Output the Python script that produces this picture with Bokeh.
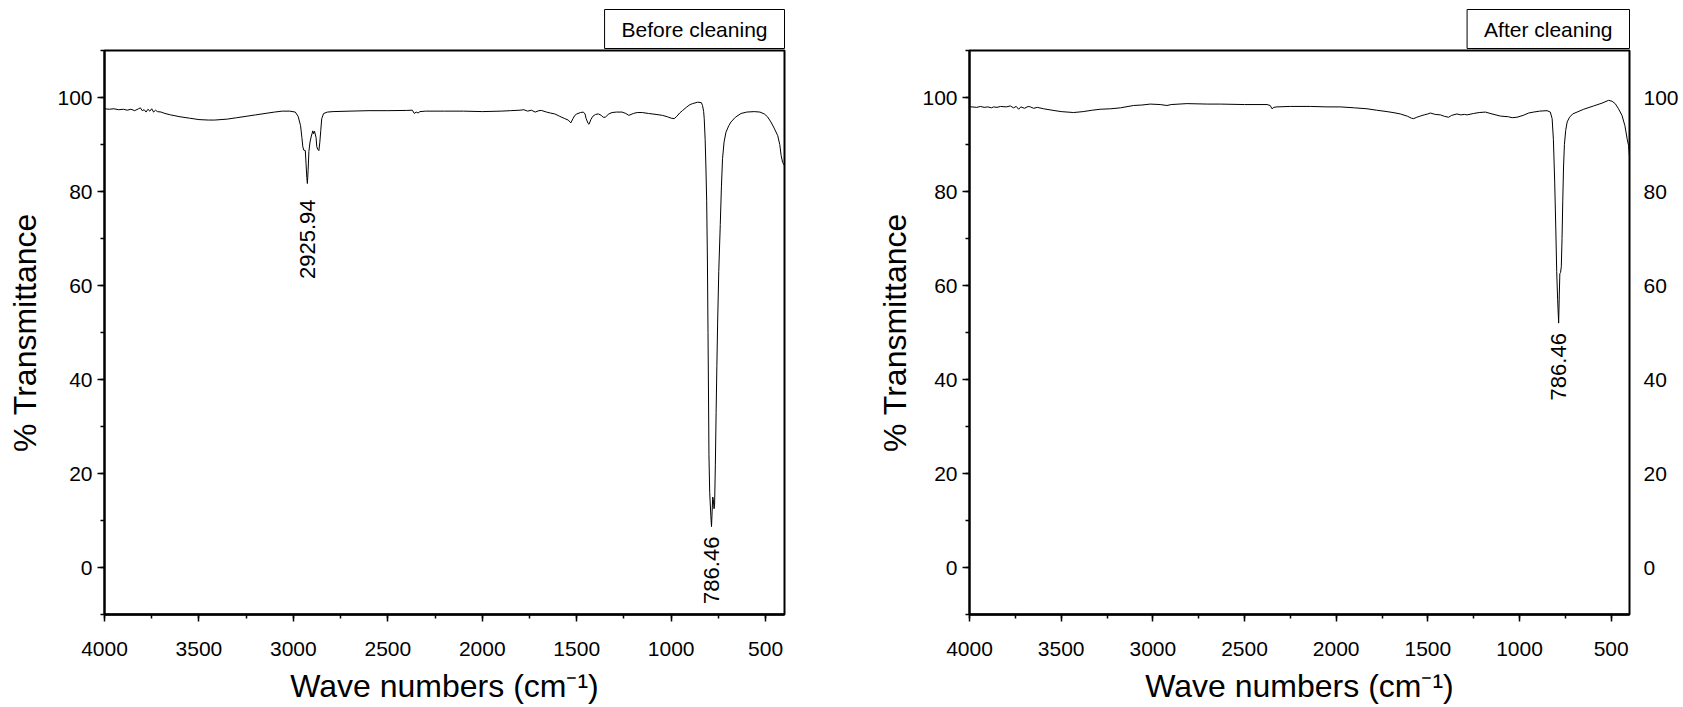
import math
from bokeh.plotting import figure
from bokeh.models import Range1d, LinearAxis, SingleIntervalTicker, Title, ColumnDataSource
from bokeh.layouts import row
from bokeh.embed import file_html
from bokeh.resources import INLINE
from bokeh.core.properties import value

# ---------------- data ----------------
X_START, X_END = 4000, 400
Y_START, Y_END = -10, 110
Y_TICK_STEP = 20
X_TICK_STEP = 500

panel_titles = ["Before cleaning", "After cleaning"]
x_label = "Wave numbers (cm\u207b\u00b9)"
y_label = "% Transmittance"

before_wn = [4000, 3975, 3950, 3925, 3900, 3880, 3860, 3840, 3820, 3810,
             3800, 3790, 3780, 3770, 3760, 3750, 3740, 3730, 3720, 3700,
             3680, 3650, 3600, 3550, 3500, 3450, 3417, 3350, 3300, 3250,
             3200, 3150, 3100, 3059, 3020, 2990, 2975, 2962, 2955, 2950,
             2945, 2937, 2933, 2929, 2925.94, 2922, 2918, 2912, 2905, 2897,
             2893, 2888, 2880, 2876, 2870, 2865, 2860, 2855, 2850, 2840,
             2820, 2790, 2700, 2600, 2500, 2400, 2370, 2360, 2350, 2340,
             2330, 2300, 2200, 2100, 2000, 1900, 1850, 1800, 1780, 1760,
             1740, 1720, 1700, 1687, 1660, 1640, 1616, 1590, 1563, 1545,
             1531, 1520, 1510, 1500, 1480, 1465, 1456, 1450, 1440, 1435,
             1425, 1415, 1400, 1385, 1370, 1360, 1349, 1330, 1313, 1290,
             1260, 1240, 1224, 1200, 1180, 1153, 1120, 1080, 1046, 1020,
             1000, 984, 970, 955, 939, 920, 900, 886, 860, 840,
             834, 828, 825, 820, 816, 812, 808, 805, 802, 800,
             796, 790, 786.46, 783, 780, 777, 773, 770, 766, 762,
             758, 754, 748, 740, 734, 728, 720, 710, 695, 683,
             660, 630, 600, 560, 530, 507, 490, 472, 455, 436,
             425, 418, 410, 400]
before_T = [97.6, 97.5, 97.6, 97.4, 97.5, 97.3, 97.5, 97.2, 97.6, 97.8,
            97.2, 97.4, 96.9, 97.5, 97.1, 97.6, 96.9, 97.3, 97.0, 96.9,
            96.6, 96.3, 95.9, 95.6, 95.3, 95.2, 95.2, 95.4, 95.7, 96.0,
            96.3, 96.6, 96.9, 97.1, 97.1, 96.9, 96.0, 94.0, 91.5, 89.5,
            88.8, 88.7, 86.0, 83.0, 81.7, 84.5, 88.5, 90.5, 91.8, 92.9,
            92.3, 92.8, 91.5, 89.5, 88.9, 88.7, 90.5, 93.0, 95.5, 96.6,
            96.9, 97.0, 97.1, 97.2, 97.2, 97.25, 97.3, 96.6, 96.9, 96.7,
            97.0, 97.1, 97.1, 97.1, 97.0, 97.1, 97.2, 97.3, 97.4, 97.1,
            97.3, 96.9, 97.2, 97.25, 96.9, 96.7, 96.5, 96.0, 95.5, 95.2,
            94.6, 95.5, 96.2, 96.5, 96.8, 96.9, 96.5, 95.5, 94.5, 94.3,
            95.3, 96.0, 96.4, 96.5, 96.2, 95.8, 95.8, 96.5, 96.8, 96.9,
            96.9, 96.6, 96.2, 96.6, 96.8, 96.8, 96.6, 96.4, 96.2, 95.9,
            95.6, 95.5, 96.0, 96.7, 97.25, 97.9, 98.5, 98.7, 99.0, 98.9,
            98.3, 97.0, 95.5, 91.0, 85.0, 78.0, 65.0, 50.0, 35.0, 24.0,
            16.0, 11.0, 8.7, 12.0, 15.0, 14.5, 12.5, 13.5, 22.0, 33.0,
            43.0, 52.0, 63.0, 73.0, 81.0, 87.0, 90.5, 92.6, 94.0, 94.8,
            95.8, 96.6, 96.9, 97.0, 96.9, 96.5, 95.9, 94.8, 93.5, 91.9,
            90.0, 87.7, 86.2, 85.5]

after_wn = [4000, 3986, 3960, 3940, 3920, 3900, 3880, 3869, 3850, 3830,
            3800, 3777, 3760, 3745, 3732, 3720, 3700, 3680, 3668, 3650,
            3630, 3596, 3550, 3500, 3432, 3380, 3330, 3287, 3230, 3177,
            3105, 3060, 3014, 2960, 2923, 2900, 2814, 2700, 2632, 2500,
            2377, 2360, 2350, 2340, 2323, 2250, 2141, 2050, 1978, 1900,
            1832, 1780, 1723, 1690, 1650, 1610, 1590, 1577, 1560, 1541,
            1520, 1500, 1486, 1460, 1431, 1410, 1387, 1370, 1341, 1320,
            1300, 1286, 1250, 1220, 1186, 1150, 1104, 1060, 1040, 1014,
            980, 950, 923, 890, 850, 832, 822, 815, 808, 802,
            797, 792, 786.46, 783, 780, 776, 772, 768, 764, 760,
            755, 748, 740, 727, 710, 686, 650, 596, 550, 514,
            495, 478, 460, 441, 425, 412, 405, 400]
after_T = [98.0, 98.0, 97.9, 98.1, 97.9, 98.0, 97.8, 98.0, 97.9, 98.1,
           98.0, 98.2, 97.8, 98.1, 97.5, 98.0, 97.7, 98.1, 98.0, 97.7,
           97.9, 97.6, 97.3, 97.0, 96.8, 97.0, 97.3, 97.5, 97.6, 97.8,
           98.3, 98.4, 98.6, 98.5, 98.3, 98.5, 98.7, 98.6, 98.6, 98.5,
           98.5, 98.3, 97.6, 97.9, 98.0, 98.1, 98.1, 98.0, 98.0, 97.8,
           97.6, 97.3, 97.0, 96.8, 96.5, 96.0, 95.6, 95.5, 95.8, 96.05,
           96.3, 96.5, 96.7, 96.4, 96.3, 96.0, 95.8, 96.2, 96.5, 96.3,
           96.4, 96.3, 96.6, 96.8, 96.9, 96.5, 96.05, 95.9, 95.7, 95.8,
           96.2, 96.7, 96.9, 97.1, 97.2, 96.9, 95.5, 91.0, 82.0, 72.0,
           63.0, 57.0, 52.0, 58.0, 62.5, 62.8, 64.0, 70.0, 78.0, 85.0,
           90.0, 93.0, 94.8, 95.8, 96.5, 96.9, 97.5, 98.2, 98.8, 99.4,
           99.2, 98.7, 97.6, 96.2, 94.0, 91.0, 89.8, 87.5]

before_peaks_wn = [2925.94, 786.46]
before_peaks_T = [81.7, 8.7]
before_peaks_txt = ["2925.94", "786.46"]

after_peaks_wn = [786.46]
after_peaks_T = [52.0]
after_peaks_txt = ["786.46"]

assert len(before_wn) == len(before_T), (len(before_wn), len(before_T))
assert len(after_wn) == len(after_T), (len(after_wn), len(after_T))

# ---------------- styling ----------------
SANS = "Liberation Sans"
FRAME_H = 564


def style_axis(ax, ticks=True):
    ax.major_label_text_font = SANS
    ax.major_label_text_font_size = "21px"
    ax.major_label_text_color = "black"
    ax.axis_label_text_color = "black"
    ax.axis_label_text_font_style = "normal"
    if ticks:
        ax.major_tick_in = 0
        ax.major_tick_out = 7
        ax.minor_tick_in = 0
        ax.minor_tick_out = 4
        ax.major_tick_line_color = "black"
        ax.minor_tick_line_color = "black"
        ax.major_tick_line_width = 1.5
        ax.minor_tick_line_width = 1.5
        ax.axis_line_color = "black"
        ax.axis_line_width = 2
    else:
        ax.major_tick_line_color = None
        ax.minor_tick_line_color = None
        ax.axis_line_color = None


def make_title(text):
    kw = dict(text=text, align="right", text_font=SANS, text_font_size="21px",
              text_font_style="normal", text_color="black",
              border_line_color="black", border_line_width=1,
              background_fill_color="white", standoff=4)
    for pad in [dict(x=17, y=8), (17, 8), 8]:
        try:
            return Title(padding=pad, **kw)
        except Exception:
            continue
    return Title(**kw)


def make_panel(wn, T, title, pk_wn, pk_T, pk_txt, pk_gap, left_b, frame_w, right_b,
               right_labels, ylab_standoff):
    p = figure(frame_width=frame_w, frame_height=FRAME_H,
               x_range=Range1d(X_START, X_END), y_range=Range1d(Y_START, Y_END),
               output_backend="svg", toolbar_location=None,
               min_border_left=left_b, min_border_right=right_b,
               min_border_top=50, min_border_bottom=85,
               background_fill_color="white", border_fill_color="white")
    p.xgrid.visible = False
    p.ygrid.visible = False
    p.outline_line_color = "black"
    p.outline_line_width = 2
    p.outline_line_alpha = 1.0

    p.xaxis.ticker = SingleIntervalTicker(interval=X_TICK_STEP, num_minor_ticks=2)
    p.yaxis.ticker = SingleIntervalTicker(interval=Y_TICK_STEP, num_minor_ticks=2)
    for ax in p.xaxis:
        style_axis(ax)
        ax.axis_line_width = 2.5
        ax.major_label_standoff = 20
        ax.axis_label = x_label
        ax.axis_label_text_font = SANS
        ax.axis_label_text_font_size = "32px"
        ax.axis_label_standoff = 9
    for ax in p.yaxis:
        style_axis(ax)
        ax.major_label_standoff = 5
        ax.axis_label = y_label
        ax.axis_label_text_font = SANS
        ax.axis_label_text_font_size = "32px"
        ax.axis_label_standoff = ylab_standoff

    if right_labels:
        rax = LinearAxis(ticker=SingleIntervalTicker(interval=Y_TICK_STEP, num_minor_ticks=2))
        style_axis(rax, ticks=False)
        rax.major_label_standoff = 8
        p.add_layout(rax, "right")

    src = ColumnDataSource(dict(x=wn, y=T))
    p.line("x", "y", source=src, line_color="black", line_width=1)

    for w, t, s, g in zip(pk_wn, pk_T, pk_txt, pk_gap):
        p.text(x=[w], y=[t], text=[s], angle=math.pi / 2, y_offset=g,
               text_align="right", text_baseline="middle",
               text_font=value(SANS), text_font_size="22px", text_color="black")

    p.add_layout(make_title(title), "above")
    return p


p1 = make_panel(before_wn, before_T, panel_titles[0], before_peaks_wn, before_peaks_T,
                before_peaks_txt, [16, 10], 104, 680, 40, False, 11)
p2 = make_panel(after_wn, after_T, panel_titles[1], after_peaks_wn, after_peaks_T,
                after_peaks_txt, [10], 145, 660, 46, True, 6)

layout = row(p1, p2)
open("out.html", "w").write(file_html(layout, INLINE))
